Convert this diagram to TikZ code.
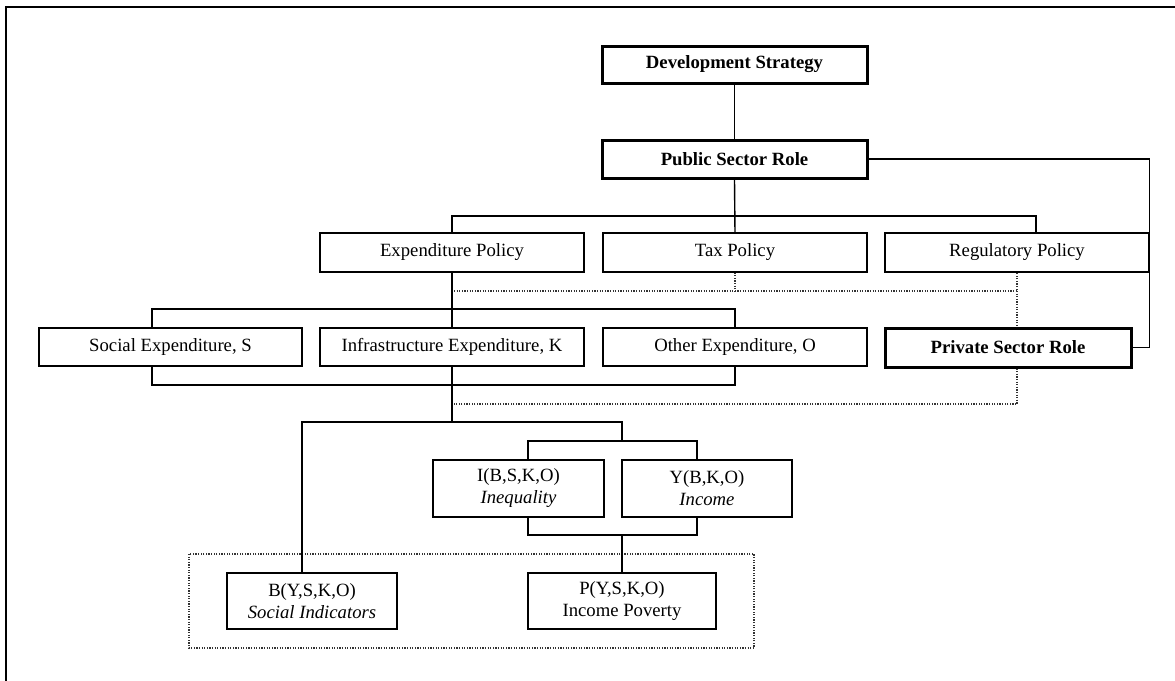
\documentclass[tikz,border=0pt]{standalone}
\usepackage{fontspec}
\setmainfont{Liberation Serif}
\begin{document}
\begin{tikzpicture}[x=0.5pt,y=-0.5pt,
  every node/.style={font=\fontsize{9.35}{11}\selectfont},
  box/.style={draw,line width=0.6pt,inner sep=0pt,align=center,fill=white},
  bbox/.style={box,line width=1.5pt,font=\fontsize{9.35}{11}\selectfont\bfseries},
  conn/.style={line width=0.7pt},
  dot/.style={line width=0.6pt,dash pattern=on 0.6pt off 0.7pt,black!80}]
\useasboundingbox (0,0) rectangle (1175,681);
% frame
\draw[line width=1pt] (6,681) -- (6,7) -- (1175,7);
% dotted grouping rectangle
\draw[dot] (189,554) rectangle (754,648);
% nodes
\node[bbox,minimum width=132.5pt,minimum height=18.5pt] (ds) at (734.5,64.5) {Development Strategy};
\node[bbox,minimum width=132.5pt,minimum height=19pt] (psr) at (734.5,159) {Public Sector Role};
\node[box,minimum width=132pt,minimum height=19.5pt] (exp) at (452,252.5) {Expenditure Policy};
\node[box,minimum width=132pt,minimum height=19.5pt] (tax) at (735,252.5) {Tax Policy};
\node[box,minimum width=132pt,minimum height=19.5pt] (reg) at (1017,252.5) {Regulatory Policy};
\node[box,minimum width=131.5pt,minimum height=19pt] (soc) at (170.5,347) {Social Expenditure, S};
\node[box,minimum width=132pt,minimum height=19pt] (inf) at (452,347) {Infrastructure Expenditure, K};
\node[box,minimum width=132pt,minimum height=19pt] (oth) at (735,347) {Other Expenditure, O};
\node[bbox,minimum width=123pt,minimum height=19.5pt] (priv) at (1008,347.5) {Private Sector Role};
\node[box,minimum width=85.5pt,minimum height=28.5pt] (ineq) at (518.5,488.5) {I(B,S,K,O)\\\textit{Inequality}};
\node[box,minimum width=85pt,minimum height=28.5pt] (inc) at (707,488.5) {Y(B,K,O)\\\textit{Income}};
\node[box,minimum width=85pt,minimum height=28pt] (soci) at (312,601) {B(Y,S,K,O)\\\textit{Social Indicators}};
\node[box,minimum width=94pt,minimum height=28pt] (pov) at (622,601) {P(Y,S,K,O)\\Income Poverty};
% bus coordinates
\coordinate (b1) at (452,216);
\coordinate (b1r) at (1036,216);
\coordinate (b2l) at (152,309);
\coordinate (b2r) at (735,309);
\coordinate (b3l) at (152,385);
\coordinate (b3r) at (735,385);
\coordinate (b4) at (452,422);
\coordinate (b4l) at (302,422);
\coordinate (b4r) at (622,422);
\coordinate (b5l) at (528,441);
\coordinate (b5r) at (697,441);
\coordinate (b6l) at (528,535);
\coordinate (b6r) at (697,535);
\coordinate (b6m) at (622,535);
\coordinate (d1l) at (454,291);
\coordinate (d1r) at (1017,291);
\coordinate (d2l) at (454,404);
\coordinate (d2r) at (1017,404);
% solid connectors
\draw[conn] (ds) -- (psr);
\draw[conn] (psr.south) -- (tax.north);
\draw[conn] (psr.east) -| (reg.north east) -- (reg.south east) |- (priv.east);
\draw[conn] (exp.north) -- (b1) -- (b1r) -- (b1r |- reg.north);
\draw[conn] (exp.south) -- (inf.north);
\draw[conn] (b2l |- soc.north) -- (b2l) -- (b2r) -- (oth.north);
\draw[conn] (b3l |- soc.south) -- (b3l) -- (b3r) -- (oth.south);
\draw[conn] (inf.south) -- (b4);
\draw[conn] (soci.north -| b4l) -- (b4l) -- (b4r) -- (b4r |- b5l);
\draw[conn] (b5l |- ineq.north) -- (b5l) -- (b5r) -- (b5r |- inc.north);
\draw[conn] (b6l |- ineq.south) -- (b6l) -- (b6r) -- (b6r |- inc.south);
\draw[conn] (b6m) -- (pov.north);
% dotted connectors
\draw[dot] (d1l) -- (d1r) -- (reg.south -| d1r);
\draw[dot] (tax.south) -- (tax.south |- d1l);
\draw[dot] (d1r) -- (priv.north -| d1r);
\draw[dot] (priv.south -| d2r) -- (d2r) -- (d2l);
\end{tikzpicture}
\end{document}
